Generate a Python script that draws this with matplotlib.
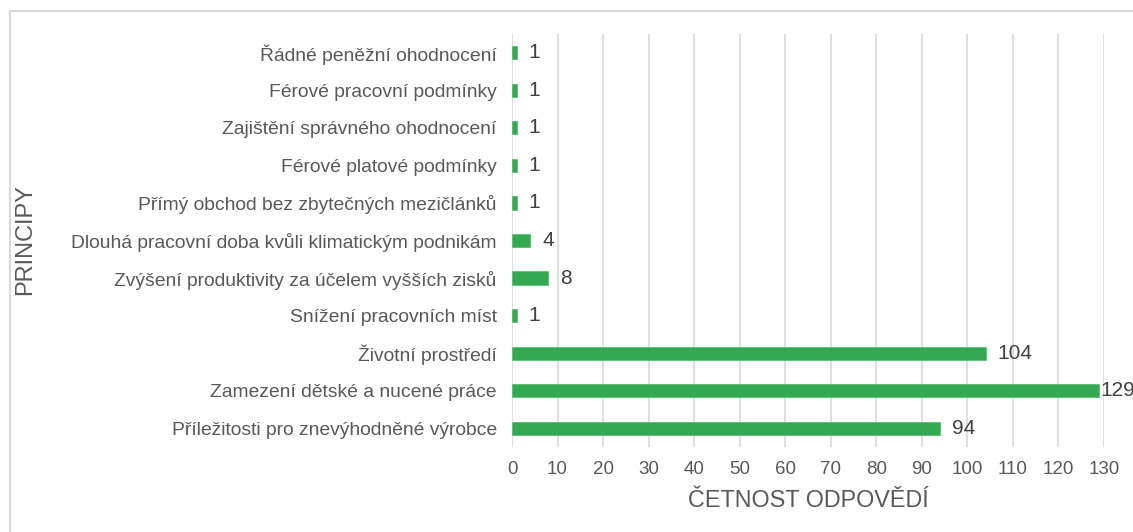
import matplotlib
matplotlib.use("Agg")
import matplotlib.pyplot as plt
from matplotlib.lines import Line2D

categories = [
    "Řádné peněžní ohodnocení",
    "Férové pracovní podmínky",
    "Zajištění správného ohodnocení",
    "Férové platové podmínky",
    "Přímý obchod bez zbytečných mezičlánků",
    "Dlouhá pracovní doba kvůli klimatickým podnikám",
    "Zvýšení produktivity za účelem vyšších zisků",
    "Snížení pracovních míst",
    "Životní prostředí",
    "Zamezení dětské a nucené práce",
    "Příležitosti pro znevýhodněné výrobce",
]
values = [1, 1, 1, 1, 1, 4, 8, 1, 104, 129, 94]
xticks = list(range(0, 140, 10))

plt.rcParams['font.family'] = ['Liberation Sans', 'DejaVu Sans']
W, H = 1133, 532
fig = plt.figure(figsize=(W / 100, H / 100), dpi=100)

# outer chart border (cropped on right/bottom)
fig.add_artist(Line2D([10 / W, 1.0], [1 - 11 / H, 1 - 11 / H], transform=fig.transFigure,
                      color='#d9d9d9', lw=1.5))
fig.add_artist(Line2D([10 / W, 10 / W], [0, 1 - 11 / H], transform=fig.transFigure,
                      color='#d9d9d9', lw=1.5))

x0, x1 = 512, 1104
xmax = 130
top, bottom = 34, 447
ax = fig.add_axes([x0 / W, 1 - bottom / H, (x1 - x0) / W, (bottom - top) / H])

n = len(categories)
ypos = list(range(n))
ax.barh(ypos, values, height=0.35, color='#34a853', edgecolor='#5cbf72', linewidth=0.6, zorder=3)
ax.set_ylim(n - 0.5, -0.5)
ax.set_xlim(0, xmax)
ax.set_yticks(ypos)
ax.set_yticklabels(categories, fontsize=13.9, color='#595959')
ax.set_xticks(xticks)
ax.set_xticklabels([str(t) for t in xticks], fontsize=13.5, color='#595959')
ax.tick_params(axis='both', length=0)
ax.tick_params(axis='y', pad=11)
ax.tick_params(axis='x', pad=10)
for s in ax.spines.values():
    s.set_visible(False)
ax.xaxis.grid(True, color='#d9d9d9', lw=1.2, zorder=0)
ax.set_axisbelow(True)

ppu = (x1 - x0) / xmax
for y, v in zip(ypos, values):
    end_px = x0 + v * ppu
    # Excel-like: shift label close to the bar if it would not fit
    off = 12 if end_px + 12 + 30 < x1 else 1
    ax.annotate(str(v), (v, y), xytext=(off * 0.72, 0), textcoords='offset points',
                va='center', ha='left', fontsize=15, color='#404040', zorder=4,
                annotation_clip=False)

ax.set_xlabel("ČETNOST ODPOVĚDÍ", fontsize=16.8, color='#595959', labelpad=8)
fig.text(25 / W, 1 - 240 / H, "PRINCIPY", rotation=90, fontsize=17, color='#595959',
         ha='center', va='center')

fig.savefig("out.png", dpi=100)
